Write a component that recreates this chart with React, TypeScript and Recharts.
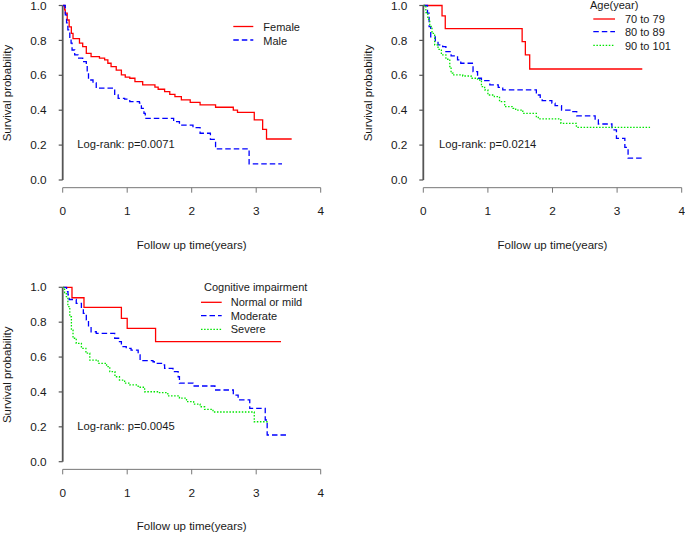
import React from 'react';
import { LineChart, Line, XAxis, YAxis, ReferenceLine } from 'recharts';

// ---------- Panel 1: Sex ----------
const femaleTime = [0, 0.03, 0.04, 0.07, 0.1, 0.134, 0.16, 0.26, 0.31, 0.366, 0.44, 0.57, 0.65, 0.7, 0.75, 0.83, 0.91, 0.97, 1.04, 1.12, 1.24, 1.43, 1.48, 1.58, 1.66, 1.74, 1.84, 1.977, 2.13, 2.37, 2.645, 2.71, 2.97, 3.1, 3.16, 3.55];
const femaleSurv = [1, 0.975, 0.956, 0.917, 0.878, 0.84, 0.81, 0.784, 0.764, 0.726, 0.707, 0.698, 0.688, 0.669, 0.65, 0.63, 0.602, 0.59, 0.583, 0.564, 0.545, 0.532, 0.52, 0.506, 0.491, 0.478, 0.459, 0.445, 0.43, 0.417, 0.4, 0.388, 0.344, 0.29, 0.235, 0.235];
const maleTime = [0, 0.04, 0.06, 0.08, 0.11, 0.13, 0.145, 0.186, 0.237, 0.31, 0.366, 0.38, 0.4, 0.47, 0.52, 0.806, 0.86, 0.96, 1.04, 1.19, 1.22, 1.26, 1.28, 1.72, 1.81, 2.02, 2.13, 2.29, 2.37, 2.89, 3.4];
const maleSurv = [1, 0.946, 0.9, 0.86, 0.81, 0.784, 0.745, 0.717, 0.698, 0.678, 0.659, 0.621, 0.573, 0.557, 0.526, 0.487, 0.468, 0.463, 0.449, 0.44, 0.411, 0.382, 0.353, 0.334, 0.315, 0.3, 0.268, 0.233, 0.178, 0.092, 0.092];

// ---------- Panel 2: Age ----------
const age70Time = [0, 0.29, 0.34, 1.53, 1.58, 1.647, 3.39];
const age70Surv = [1, 0.94, 0.868, 0.793, 0.717, 0.636, 0.636];
const age80Time = [0, 0.065, 0.09, 0.115, 0.186, 0.228, 0.3, 0.35, 0.43, 0.53, 0.58, 0.77, 0.84, 0.9, 1.03, 1.16, 1.23, 1.75, 1.81, 1.84, 1.99, 2.04, 2.14, 2.3, 2.375, 2.66, 2.71, 2.92, 2.99, 3.12, 3.17, 3.39];
const age80Surv = [1, 0.956, 0.879, 0.82, 0.793, 0.774, 0.764, 0.736, 0.711, 0.688, 0.669, 0.621, 0.583, 0.569, 0.545, 0.531, 0.516, 0.487, 0.468, 0.455, 0.44, 0.426, 0.4, 0.392, 0.367, 0.344, 0.321, 0.287, 0.239, 0.187, 0.125, 0.125];
const age90Time = [0, 0.04, 0.07, 0.1, 0.135, 0.176, 0.228, 0.28, 0.35, 0.41, 0.43, 0.46, 0.61, 0.74, 0.84, 0.9, 0.95, 1.0, 1.1, 1.18, 1.26, 1.39, 1.43, 1.54, 1.75, 1.78, 2.13, 2.37, 3.51];
const age90Surv = [1, 0.96, 0.92, 0.88, 0.84, 0.774, 0.749, 0.717, 0.692, 0.65, 0.612, 0.602, 0.596, 0.583, 0.573, 0.535, 0.516, 0.487, 0.478, 0.449, 0.42, 0.411, 0.401, 0.382, 0.363, 0.35, 0.325, 0.302, 0.302];

// ---------- Panel 3: Cognitive impairment ----------
const normalTime = [0, 0.144, 0.33, 0.91, 1.0, 1.44, 3.385];
const normalSurv = [1, 0.94, 0.885, 0.822, 0.765, 0.688, 0.688];
const moderateTime = [0, 0.06, 0.082, 0.1, 0.21, 0.29, 0.32, 0.366, 0.4, 0.44, 0.52, 0.806, 0.88, 0.91, 0.985, 1.06, 1.17, 1.2, 1.4, 1.42, 1.555, 1.58, 1.71, 1.79, 1.81, 2.02, 2.36, 2.645, 2.72, 2.9, 3.14, 3.17, 3.5];
const moderateSurv = [1, 0.975, 0.956, 0.93, 0.908, 0.88, 0.851, 0.813, 0.774, 0.745, 0.736, 0.708, 0.688, 0.66, 0.65, 0.64, 0.612, 0.579, 0.573, 0.564, 0.555, 0.535, 0.516, 0.487, 0.45, 0.434, 0.411, 0.382, 0.354, 0.306, 0.239, 0.153, 0.153];
const severeTime = [0, 0.03, 0.056, 0.08, 0.11, 0.135, 0.16, 0.21, 0.29, 0.36, 0.42, 0.55, 0.68, 0.73, 0.81, 0.88, 0.96, 1.04, 1.17, 1.27, 1.48, 1.63, 1.81, 1.92, 2.03, 2.13, 2.2, 2.33, 2.97, 3.2];
const severeSurv = [1, 0.97, 0.946, 0.889, 0.831, 0.755, 0.708, 0.679, 0.65, 0.622, 0.583, 0.564, 0.545, 0.516, 0.487, 0.468, 0.45, 0.44, 0.427, 0.401, 0.396, 0.377, 0.364, 0.344, 0.33, 0.315, 0.3, 0.285, 0.229, 0.229];

const xTicks = [0, 1, 2, 3, 4];
const yTicks = [0, 0.2, 0.4, 0.6, 0.8, 1.0];
const xTitle = 'Follow up time(years)';
const yTitle = 'Survival probability';

const RED = '#ff0000';
const BLUE = '#0000ff';
const GREEN = '#00e600';
const DASH = '5.5 3';
const DOT = '1.5 1.6';
const FONT = '"Liberation Sans", Arial, Helvetica, sans-serif';

type Series = { name: string; time: number[]; surv: number[]; color: string; dash?: string };

const toData = (time: number[], surv: number[]) => time.map((t, i) => ({ t, s: surv[i] }));

function KMPanel(props: { plotLeft: number; plotRight: number; yOne: number; yZero: number; series: Series[] }) {
  const { plotLeft, plotRight, yOne, yZero, series } = props;
  const scale = yZero - yOne;
  const yTopPx = yZero - 1.04 * scale;
  const yBotPx = yZero + 0.044 * scale;
  const YW = 55;
  const XH = 62;
  const divLeft = Math.floor(plotLeft - YW - 5);
  const divTop = Math.floor(yTopPx - 12);
  const ml = plotLeft - YW - divLeft;
  const mt = yTopPx - divTop;
  const width = Math.ceil(plotRight + 4 - divLeft);
  const height = Math.ceil(yBotPx + XH + 4 - divTop);
  const mr = width - (plotRight - divLeft);
  const mb = height - (yBotPx - divTop) - XH;
  return (
    <div style={{ position: 'absolute', left: divLeft, top: divTop, width, height }}>
      <LineChart width={width} height={height} margin={{ top: mt, right: mr, bottom: mb, left: ml }}>
        <XAxis
          type="number"
          dataKey="t"
          domain={[0, 4]}
          ticks={xTicks}
          allowDataOverflow
          height={XH}
          tickSize={5}
          tickMargin={14}
          axisLine={{ stroke: '#777', strokeWidth: 1 }}
          tickLine={{ stroke: '#777', strokeWidth: 1 }}
          tick={{ fontSize: 11.8, fill: '#1a1a1a' }}
          label={{ value: xTitle, position: 'insideBottom', offset: 1, fontSize: 11.5, fill: '#1a1a1a' }}
        />
        <YAxis
          type="number"
          domain={[-0.044, 1.04]}
          ticks={yTicks}
          allowDataOverflow
          width={YW}
          tickSize={4}
          tickMargin={12}
          axisLine={false}
          tickLine={{ stroke: '#555', strokeWidth: 1.2 }}
          tick={{ fontSize: 11.8, fill: '#1a1a1a' }}
          tickFormatter={(v: number) => v.toFixed(1)}
          label={{
            value: yTitle,
            angle: -90,
            position: 'insideLeft',
            offset: -0.8,
            fontSize: 11.5,
            fill: '#1a1a1a',
            textAnchor: 'middle',
            style: { textAnchor: 'middle' },
          }}
        />
        <ReferenceLine
          segment={[{ x: 0, y: 0 }, { x: 0, y: 1 }]}
          stroke="#555"
          strokeWidth={1.8}
        />
        {series.map((s) => (
          <Line
            key={s.name}
            name={s.name}
            data={toData(s.time, s.surv)}
            dataKey="s"
            type="stepAfter"
            stroke={s.color}
            strokeWidth={1.3}
            strokeDasharray={s.dash}
            dot={false}
            activeDot={false}
            isAnimationActive={false}
          />
        ))}
      </LineChart>
    </div>
  );
}

const sexSeries: Series[] = [
  { name: 'Female', time: femaleTime, surv: femaleSurv, color: RED },
  { name: 'Male', time: maleTime, surv: maleSurv, color: BLUE, dash: DASH },
];
const ageSeries: Series[] = [
  { name: '70 to 79', time: age70Time, surv: age70Surv, color: RED },
  { name: '80 to 89', time: age80Time, surv: age80Surv, color: BLUE, dash: DASH },
  { name: '90 to 101', time: age90Time, surv: age90Surv, color: GREEN, dash: DOT },
];
const cogSeries: Series[] = [
  { name: 'Normal or mild', time: normalTime, surv: normalSurv, color: RED },
  { name: 'Moderate', time: moderateTime, surv: moderateSurv, color: BLUE, dash: DASH },
  { name: 'Severe', time: severeTime, surv: severeSurv, color: GREEN, dash: DOT },
];

function LegendBlock(props: { series: Series[]; title?: string; titleX?: number; titleY?: number; lineX1: number; lineX2: number; textX: number; lineYs: number[]; textYs: number[] }) {
  const { series, title, titleX, titleY, lineX1, lineX2, textX, lineYs, textYs } = props;
  return (
    <g>
      {title ? (
        <text x={titleX} y={titleY} fontSize={11} fill="#1a1a1a">{title}</text>
      ) : null}
      {series.map((s, i) => (
        <g key={s.name}>
          <line x1={lineX1} x2={lineX2} y1={lineYs[i]} y2={lineYs[i]} stroke={s.color} strokeWidth={1.3} strokeDasharray={s.dash} />
          <text x={textX} y={textYs[i]} fontSize={11} fill="#1a1a1a">{s.name}</text>
        </g>
      ))}
    </g>
  );
}

export default function App() {
  return (
    <div style={{ position: 'absolute', left: 0, top: 0, width: 685, height: 535, overflow: 'hidden', background: '#fff', fontFamily: FONT }}>
      <KMPanel plotLeft={62.7} plotRight={320.7} yOne={5.5} yZero={180} series={sexSeries} />
      <KMPanel plotLeft={423.3} plotRight={681.7} yOne={5.5} yZero={180} series={ageSeries} />
      <KMPanel plotLeft={62.7} plotRight={320.7} yOne={287.3} yZero={461.7} series={cogSeries} />
      <svg width={685} height={535} style={{ position: 'absolute', left: 0, top: 0, pointerEvents: 'none', fontFamily: FONT }}>
        <LegendBlock series={sexSeries} lineX1={233.3} lineX2={253.3} textX={263.3} lineYs={[26.5, 40]} textYs={[31, 44.5]} />
        <LegendBlock series={ageSeries} title="Age(year)" titleX={590} titleY={9} lineX1={593.3} lineX2={615} textX={625} lineYs={[19, 31.7, 45.3]} textYs={[23, 36, 49.5]} />
        <LegendBlock series={cogSeries} title="Cognitive impairment" titleX={204} titleY={290.5} lineX1={201} lineX2={221.7} textX={230.7} lineYs={[302.3, 315.7, 329.3]} textYs={[306.3, 319.7, 333.3]} />
        <text x={77.3} y={147.5} fontSize={11.2} fill="#1a1a1a">Log-rank: p=0.0071</text>
        <text x={439} y={147.5} fontSize={11.2} fill="#1a1a1a">Log-rank: p=0.0214</text>
        <text x={77.3} y={429.5} fontSize={11.2} fill="#1a1a1a">Log-rank: p=0.0045</text>
      </svg>
    </div>
  );
}
